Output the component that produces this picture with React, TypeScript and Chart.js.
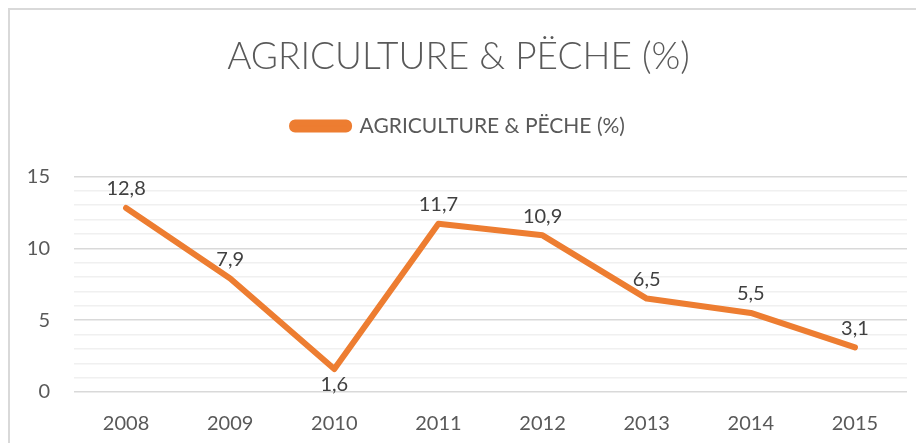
import React, { useEffect, useRef } from "react";
import { Chart, registerables } from "chart.js";

Chart.register(...registerables);

const years = ["2008", "2009", "2010", "2011", "2012", "2013", "2014", "2015"];
const values = [12.8, 7.9, 1.6, 11.7, 10.9, 6.5, 5.5, 3.1];
const labelBelow = [false, false, true, false, false, false, false, false];
const seriesName = "AGRICULTURE & PËCHE (%)";
const titleText = "AGRICULTURE & PËCHE (%)";

const FONT = "Lato, 'Open Sans', sans-serif";

const dataLabelPlugin = {
  id: "dataLabels",
  afterDatasetsDraw(chart: any) {
    const ctx = chart.ctx;
    const meta = chart.getDatasetMeta(0);
    ctx.save();
    ctx.font = `20px ${FONT}`;
    ctx.fillStyle = "#404040";
    ctx.textAlign = "center";
    ctx.textBaseline = "middle";
    meta.data.forEach((pt: any, i: number) => {
      const txt = values[i].toFixed(1).replace(".", ",");
      const dy = labelBelow[i] ? 16 : -19;
      ctx.fillText(txt, pt.x, pt.y + dy);
    });
    ctx.restore();
  },
};

const legendMargin = {
  id: "legendMargin",
  beforeInit(chart: any) {
    const legend = chart.legend;
    if (!legend) return;
    const fit = legend.fit;
    legend.fit = function () {
      fit.bind(legend)();
      this.height += 30;
    };
  },
};

export default function App() {
  const ref = useRef<HTMLCanvasElement | null>(null);
  useEffect(() => {
    if (!ref.current) return;
    const chart = new Chart(ref.current, {
      type: "line",
      data: {
        labels: years,
        datasets: [
          {
            label: seriesName,
            data: values,
            borderColor: "#ED7D31",
            backgroundColor: "#ED7D31",
            borderWidth: 6,
            borderCapStyle: "round",
            borderJoinStyle: "round",
            pointRadius: 0,
            tension: 0,
          },
        ],
      },
      options: {
        animation: false,
        responsive: false,
        maintainAspectRatio: false,
        layout: { padding: { left: 0, right: 17, top: 25, bottom: 7 } },
        plugins: {
          title: {
            display: true,
            text: titleText,
            color: "#595959",
            font: { family: FONT, size: 37, weight: "300" },
            padding: { top: 0, bottom: 26 },
          },
          legend: {
            display: true,
            labels: {
              color: "#595959",
              font: { family: FONT, size: 21 },
              boxWidth: 57,
              boxHeight: 7,
              useBorderRadius: true,
              borderRadius: 3,
              padding: 10,
            },
          },
          tooltip: { enabled: false },
        },
        scales: {
          x: {
            offset: true,
            grid: { display: false },
            border: { display: false },
            ticks: {
              color: "#595959",
              font: { family: FONT, size: 20 },
              padding: 12,
            },
          },
          y: {
            min: 0,
            max: 15,
            afterFit: (s: any) => {
              s.width = 64;
            },
            border: { display: false },
            grid: {
              color: (c: any) =>
                c.tick && c.tick.value % 5 === 0 ? "#d9d9d9" : "#f0f0f0",
              lineWidth: 1.5,
              drawTicks: false,
            },
            ticks: {
              stepSize: 1,
              autoSkip: false,
              color: "#595959",
              font: { family: FONT, size: 20 },
              padding: 24,
              callback: (v: any) => (Number(v) % 5 === 0 ? String(v) : ""),
            },
          },
        },
      },
      plugins: [legendMargin, dataLabelPlugin],
    });
    return () => chart.destroy();
  }, []);
  return (
    <div
      style={{
        width: 914,
        height: 433,
        borderTop: "2px solid #d9d9d9",
        borderLeft: "2px solid #d9d9d9",
        background: "#fff",
        overflow: "hidden",
      }}
    >
      <canvas ref={ref} width={914} height={445} style={{ display: "block" }} />
    </div>
  );
}
